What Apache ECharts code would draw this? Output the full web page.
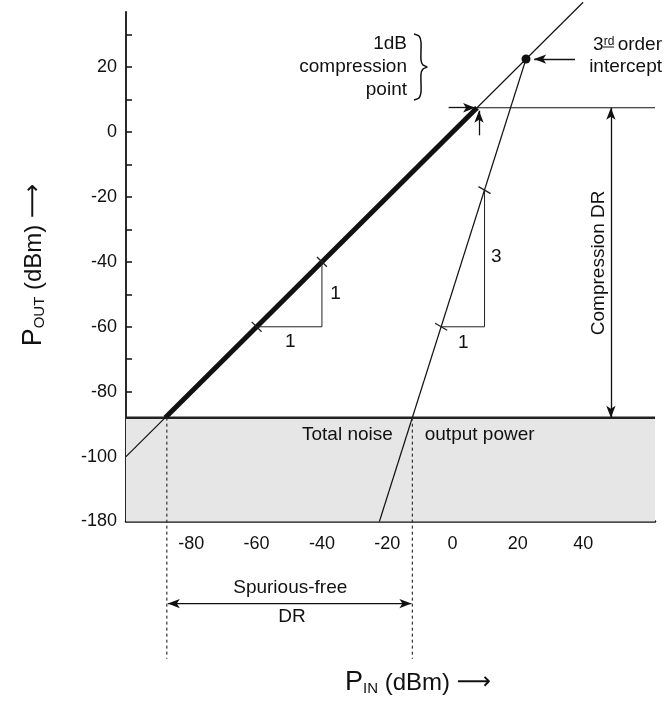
<!DOCTYPE html>
<html>
<head>
<meta charset="utf-8">
<script src="https://cdn.jsdelivr.net/npm/echarts@6/dist/echarts.min.js"></script>
<style>
  html, body { margin: 0; padding: 0; background: #fff; }
  #chart { width: 669px; height: 702px; }
</style>
</head>
<body>
<div id="chart"></div>
<script>
// axis ticks. the y axis has a break at the bottom: -120 on the scale is labelled -180
const xTicks = [-80, -60, -40, -20, 0, 20, 40];
const yLabels = [20, 0, -20, -40, -60, -80, -100, -120];
const yTicks = [30, 20, 10, 0, -10, -20, -30, -40, -50, -60, -70, -80, -90, -100, -110];
const yBreak = { '-120': '-180' };

// output curves
const gainLine = [[-100, -100], [40, 40]];        // slope 1 (thin, full length)
const linearPart = [[-88, -88], [7.5, 7.5]];      // slope 1 (thick part)
const thirdOrder = [[-22.4, -120], [22.5, 22.5]]; // slope ~3
const intercept = [[22.5, 22.5]];
const compLine = [[7.5, 7.5], [62, 7.5]];
const noiseFloor = [[-100, -88], [62, -88]];
const sfdrEdges = [-87.5, -12.3];

// slope triangles and their tick marks
const triangle1 = [[-60, -60], [-40, -60], [-40, -40]];
const triangle2 = [[-3.5, -60], [9.8, -60], [9.8, -17.9]];
const hash1 = [[-60, -60], [-40, -40]];
const hash3 = [[-3.5, -60], [9.8, -17.9]];

// texts placed in data units
const notes = [
  { name: '1', value: [-49.7, -64.6] },
  { name: '1', value: [-35.8, -49.8] },
  { name: '3', value: [13.4, -38.4] },
  { name: '1', value: [3.3, -64.9] },
  { name: 'Total noise', value: [-32.2, -93.4] },
  { name: 'output power', value: [8.3, -93.4] },
  { name: 'Compression DR', value: [44.8, -40.3], label: { rotate: 90 } },
  { name: 'Spurious-free', value: [-49.7, -140.5] },
  { name: 'DR', value: [-49.2, -149.3] }
];

const chart = echarts.init(document.getElementById('chart'));
const font = 'Liberation Sans, Arial, sans-serif';
const thin = { color: '#111', width: 1.2 };

const plain = (name, data, style, extra) => Object.assign({
  name: name, type: 'line', data: data, symbol: 'none', silent: true,
  clip: false, lineStyle: style, z: 3
}, extra || {});

const arrow = (a, b, both) => [
  { coord: a, symbol: both ? 'arrow' : 'none' },
  { coord: b, symbol: 'arrow' }
];

chart.setOption({
  animation: false,
  grid: { left: 126, right: 14, top: 12, bottom: 180.5 },
  xAxis: {
    type: 'value', min: -100, max: 62,
    splitLine: { show: false },
    axisLine: { onZero: false, lineStyle: { color: '#111', width: 2.5 } },
    axisTick: { inside: true, length: 6, customValues: xTicks, lineStyle: { color: '#111', width: 1.5 } },
    axisLabel: { customValues: xTicks, margin: 14, color: '#111', fontSize: 18, fontFamily: font }
  },
  yAxis: {
    type: 'value', min: -120, max: 37,
    splitLine: { show: false },
    axisLine: { onZero: false, lineStyle: { color: '#111', width: 1.8 } },
    axisTick: { inside: true, length: 6, customValues: yTicks, lineStyle: { color: '#111', width: 1.5 } },
    axisLabel: {
      customValues: yLabels, margin: 9, color: '#111', fontSize: 18, fontFamily: font,
      formatter: v => yBreak[v] || String(v)
    }
  },
  series: [
    plain('noise', noiseFloor, { color: '#222', width: 2.5 }, {
      z: 2,
      markArea: {
        silent: true,
        itemStyle: { color: '#e6e6e6' },
        data: [[{ coord: [-100, -88] }, { coord: [62, -120] }]]
      }
    }),
    plain('gain', gainLine, thin),
    plain('linear', linearPart, { color: '#111', width: 5 }),
    plain('third', thirdOrder, thin),
    plain('triangle1', triangle1, { color: '#222', width: 1 }),
    plain('triangle2', triangle2, { color: '#222', width: 1 }),
    plain('sfdrLeft', [[sfdrEdges[0], -88], [sfdrEdges[0], -162.3]], { color: '#333', width: 1.2, type: [3, 3] }),
    plain('sfdrRight', [[sfdrEdges[1], -88], [sfdrEdges[1], -162.3]], { color: '#333', width: 1.2, type: [3, 3] }),
    // spurious-free DR double arrow (below the x axis, so not a markLine)
    plain('sfdrArrow', [[sfdrEdges[0] + 0.3, -145.3], [sfdrEdges[1] - 0.3, -145.3]], { color: '#111', width: 1.3 }, {
      symbol: 'arrow', symbolSize: [7, 12], showSymbol: true,
      symbolRotate: (v, p) => (p.dataIndex === 0 ? 90 : -90),
      itemStyle: { color: '#111' }
    }),
    plain('compression', compLine, thin, {
      markLine: {
        silent: true, animation: false,
        symbolSize: [7, 12],
        label: { show: false },
        lineStyle: { color: '#111', width: 1.3, type: 'solid' },
        data: [
          arrow([-1.2, 7.5], [6.9, 7.5]),
          arrow([8.1, -1], [8.1, 6.6]),
          arrow([37.5, 22.5], [25, 22.5]),
          arrow([48.5, 7.5], [48.5, -88], true)
        ]
      }
    }),
    {
      type: 'scatter', data: hash1, symbol: 'rect', symbolSize: [1.3, 14],
      symbolRotate: 45, itemStyle: { color: '#222', opacity: 1 }, silent: true, z: 4
    },
    {
      type: 'scatter', data: hash3, symbol: 'rect', symbolSize: [1.3, 14],
      symbolRotate: 60, itemStyle: { color: '#222', opacity: 1 }, silent: true, z: 4
    },
    {
      type: 'scatter', data: intercept, symbol: 'circle', symbolSize: 9,
      itemStyle: { color: '#111', opacity: 1 }, silent: true, z: 5
    },
    {
      type: 'scatter', data: notes, symbolSize: 0, silent: true, clip: false, z: 6,
      itemStyle: { opacity: 1 },
      label: {
        show: true, position: 'inside', formatter: '{b}',
        color: '#111', fontSize: 19, fontFamily: font
      }
    }
  ],
  graphic: [
    {
      type: 'text', x: 407, y: 67,
      style: {
        text: '1dB\ncompression\npoint', align: 'right', verticalAlign: 'middle',
        lineHeight: 23, fill: '#111', font: '19px ' + font
      }
    },
    {
      // curly brace next to the 1dB text
      type: 'polyline', x: 414, y: 34,
      shape: {
        points: [[0, 0], [5, 2], [7, 8], [7, 26], [9, 31], [13, 33], [9, 35], [7, 40], [7, 58], [5, 64], [0, 66]],
        smooth: 0.25
      },
      style: { fill: 'none', stroke: '#111', lineWidth: 1.5 }
    },
    {
      type: 'text', x: 662, y: 56,
      style: {
        text: '{n|3}{s|rd} {n|order}\n{n|intercept}', align: 'right', verticalAlign: 'middle',
        fill: '#111',
        rich: {
          n: { fontSize: 19, fontFamily: font, lineHeight: 22, fill: '#111' },
          s: { fontSize: 12, fontFamily: font, padding: [0, 0, 7, 0], fill: '#111' }
        }
      }
    },
    {
      // underline of the ordinal "rd"
      type: 'line', shape: { x1: 603, y1: 47, x2: 614, y2: 47 },
      style: { stroke: '#111', lineWidth: 1 }
    },
    {
      type: 'text', x: 34, y: 265, rotation: Math.PI / 2,
      style: {
        text: '{P|P}{s|OUT}{p| (dBm)}  {a|⟶}', align: 'center', verticalAlign: 'middle',
        rich: {
          P: { fontSize: 27, fontFamily: font, fill: '#111' },
          p: { fontSize: 24, fontFamily: font, fill: '#111' },
          s: { fontSize: 15, fontFamily: font, fill: '#111', padding: [11, 0, 0, 0] },
          a: { fontSize: 24, fontFamily: 'DejaVu Sans', fill: '#111' }
        }
      }
    },
    {
      type: 'text', x: 418, y: 683,
      style: {
        text: '{P|P}{s|IN}{p| (dBm)}  {a|⟶}', align: 'center', verticalAlign: 'middle',
        rich: {
          P: { fontSize: 27, fontFamily: font, fill: '#111' },
          p: { fontSize: 24, fontFamily: font, fill: '#111' },
          s: { fontSize: 15, fontFamily: font, fill: '#111', padding: [11, 0, 0, 0] },
          a: { fontSize: 24, fontFamily: 'DejaVu Sans', fill: '#111' }
        }
      }
    }
  ]
});
</script>
</body>
</html>
